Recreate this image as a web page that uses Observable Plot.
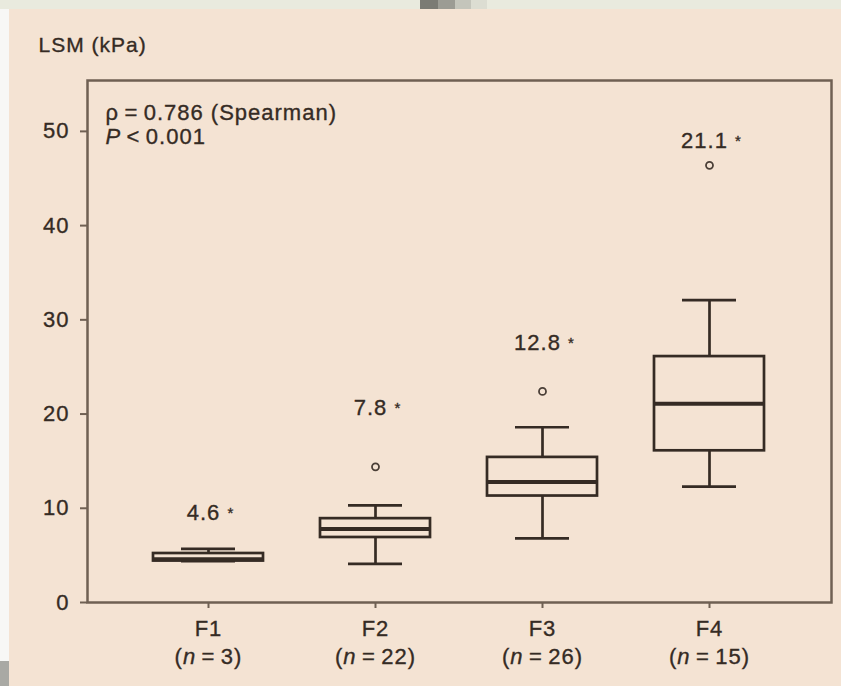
<!DOCTYPE html>
<html>
<head>
<meta charset="utf-8">
<script src="https://cdn.jsdelivr.net/npm/d3@7"></script>
<script src="https://cdn.jsdelivr.net/npm/@observablehq/plot@0.6"></script>
<style>
  html, body { margin: 0; padding: 0; width: 841px; height: 686px; overflow: hidden; background: #f4e3d3; }
  body { position: relative; }
  #chart { position: absolute; left: 0; top: 0; }
  #chart text { letter-spacing: 1px; stroke: #352b24; stroke-width: 0.35px; }
  .strip-top { position: absolute; left: 0; top: 0; width: 841px; height: 9px; background: #e9eade; }
  .strip-left { position: absolute; left: 0; top: 9px; width: 9px; height: 652px; background: #f7f7f5; }
  .strip-left-bottom { position: absolute; left: 0; top: 661px; width: 9px; height: 25px; background: #a9a9a4; }
  .blk { position: absolute; top: 0; height: 9px; }
</style>
</head>
<body>
<div id="chart"></div>
<div class="strip-top"></div>
<div class="blk" style="left:420px;width:18px;background:#7b7b74"></div>
<div class="blk" style="left:438px;width:17px;background:#9c9c94"></div>
<div class="blk" style="left:455px;width:16px;background:#c4c5bb"></div>
<div class="blk" style="left:471px;width:16px;background:#dcddd2"></div>
<div class="strip-left"></div>
<div class="strip-left-bottom"></div>
<script>
// ---- data ----
const categories   = ["F1", "F2", "F3", "F4"];
const groupN       = [3, 22, 26, 15];
const lowerWhisker = [4.4, 4.1, 6.8, 12.3];
const q1           = [4.4, 6.9, 11.3, 16.1];
const median       = [4.6, 7.8, 12.8, 21.1];
const q3           = [5.2, 8.9, 15.4, 26.1];
const upperWhisker = [5.7, 10.3, 18.6, 32.1];
const outlierCategory = ["F2", "F3", "F4"];
const outlierValue    = [14.4, 22.4, 46.4];
const medianLabels = ["4.6 *", "7.8 *", "12.8 *", "21.1 *"];
const medianLabelAt = [9.5, 20.7, 27.5, 49.0];
const yTicks = [0, 10, 20, 30, 40, 50];
const yLabel = "LSM (kPa)";
const statLine1 = "ρ\u2009=\u20090.786 (Spearman)";
const statLine2 = "P\u2009<\u20090.001";

// ---- tables built from the arrays ----
const boxes = categories.map((c, i) => ({
  cat: c, lo: lowerWhisker[i], q1: q1[i], med: median[i], q3: q3[i], hi: upperWhisker[i],
  label: medianLabels[i], labelAt: medianLabelAt[i]
}));
const outliers = outlierCategory.map((c, i) => ({cat: c, v: outlierValue[i]}));
const nByCat = new Map(categories.map((c, i) => [c, groupN[i]]));

const ink = "#352b24";
const frameInk = "#6f6053";

const chart = Plot.plot({
  width: 841,
  height: 686,
  marginLeft: 87,
  marginRight: 10,
  marginTop: 80,
  marginBottom: 84,
  style: {background: "transparent", fontFamily: "'Liberation Sans', Arial, sans-serif", fontSize: "22px", color: ink},
  x: {type: "band", domain: categories, paddingInner: 0.34, paddingOuter: 0.395, label: null},
  y: {domain: [0, 55.4], label: null},
  marks: [
    Plot.frame({stroke: frameInk, strokeWidth: 2.5}),
    Plot.axisY({ticks: yTicks, tickSize: 7, tickPadding: 11, stroke: frameInk, strokeWidth: 2, label: null, fontSize: 22}),
    Plot.axisX({tickSize: 6, tickPadding: 8, stroke: frameInk, strokeWidth: 2, label: null, fontSize: 22, lineHeight: 1.25,
      tickFormat: d => `${d}\n(n\u2009=\u2009${nByCat.get(d)})`}),
    // whiskers
    Plot.ruleX(boxes, {x: "cat", y1: "q3", y2: "hi", stroke: ink, strokeWidth: 2.7}),
    Plot.ruleX(boxes, {x: "cat", y1: "lo", y2: "q1", stroke: ink, strokeWidth: 2.7}),
    Plot.tickY(boxes, {x: "cat", y: "hi", insetLeft: 28, insetRight: 28, stroke: ink, strokeWidth: 2.7}),
    Plot.tickY(boxes, {x: "cat", y: "lo", insetLeft: 28, insetRight: 28, stroke: ink, strokeWidth: 2.7}),
    // boxes
    Plot.barY(boxes, {x: "cat", y1: "q1", y2: "q3", fill: "none", stroke: ink, strokeWidth: 2.7}),
    Plot.tickY(boxes, {x: "cat", y: "med", stroke: ink, strokeWidth: 4}),
    // outliers
    Plot.dot(outliers, {x: "cat", y: "v", r: 3.5, stroke: "#4a3f37", strokeWidth: 1.8, fill: "none"}),
    // median labels
    Plot.text(boxes, {x: "cat", y: "labelAt", text: "label", fill: ink, fontSize: 22, dx: 2}),
    // titles and stats
    Plot.text([yLabel], {frameAnchor: "top-left", textAnchor: "start", lineAnchor: "middle", dx: -49, dy: -35, fill: ink, fontSize: 21}),
    Plot.text([statLine1], {frameAnchor: "top-left", textAnchor: "start", lineAnchor: "middle", dx: 18, dy: 32, fill: ink, fontSize: 22}),
    Plot.text([statLine2], {frameAnchor: "top-left", textAnchor: "start", lineAnchor: "middle", dx: 18, dy: 56, fill: ink, fontSize: 22})
  ]
});

document.getElementById("chart").appendChild(chart);

// italicise the statistical symbols (n, P) and shrink the significance star
const NS = "http://www.w3.org/2000/svg";
function rebuild(el, parts) {
  while (el.firstChild) el.removeChild(el.firstChild);
  for (const [t, attrs] of parts) {
    const s = document.createElementNS(NS, "tspan");
    s.textContent = t;
    for (const k in attrs || {}) s.setAttribute(k, attrs[k]);
    el.appendChild(s);
  }
}
d3.select(chart).selectAll("text, tspan").each(function() {
  if (this.children.length) return;
  const t = this.textContent;
  if (t.startsWith("(n")) rebuild(this, [["(", null], ["n", {"font-style": "italic"}], [t.slice(2), null]]);
  else if (t === statLine2) rebuild(this, [["P", {"font-style": "italic"}], [t.slice(1), null]]);
  else if (medianLabels.includes(t)) rebuild(this, [[t.slice(0, -1), null], ["*", {"font-size": "15px", "dy": "-2"}]]);
});
</script>
</body>
</html>
